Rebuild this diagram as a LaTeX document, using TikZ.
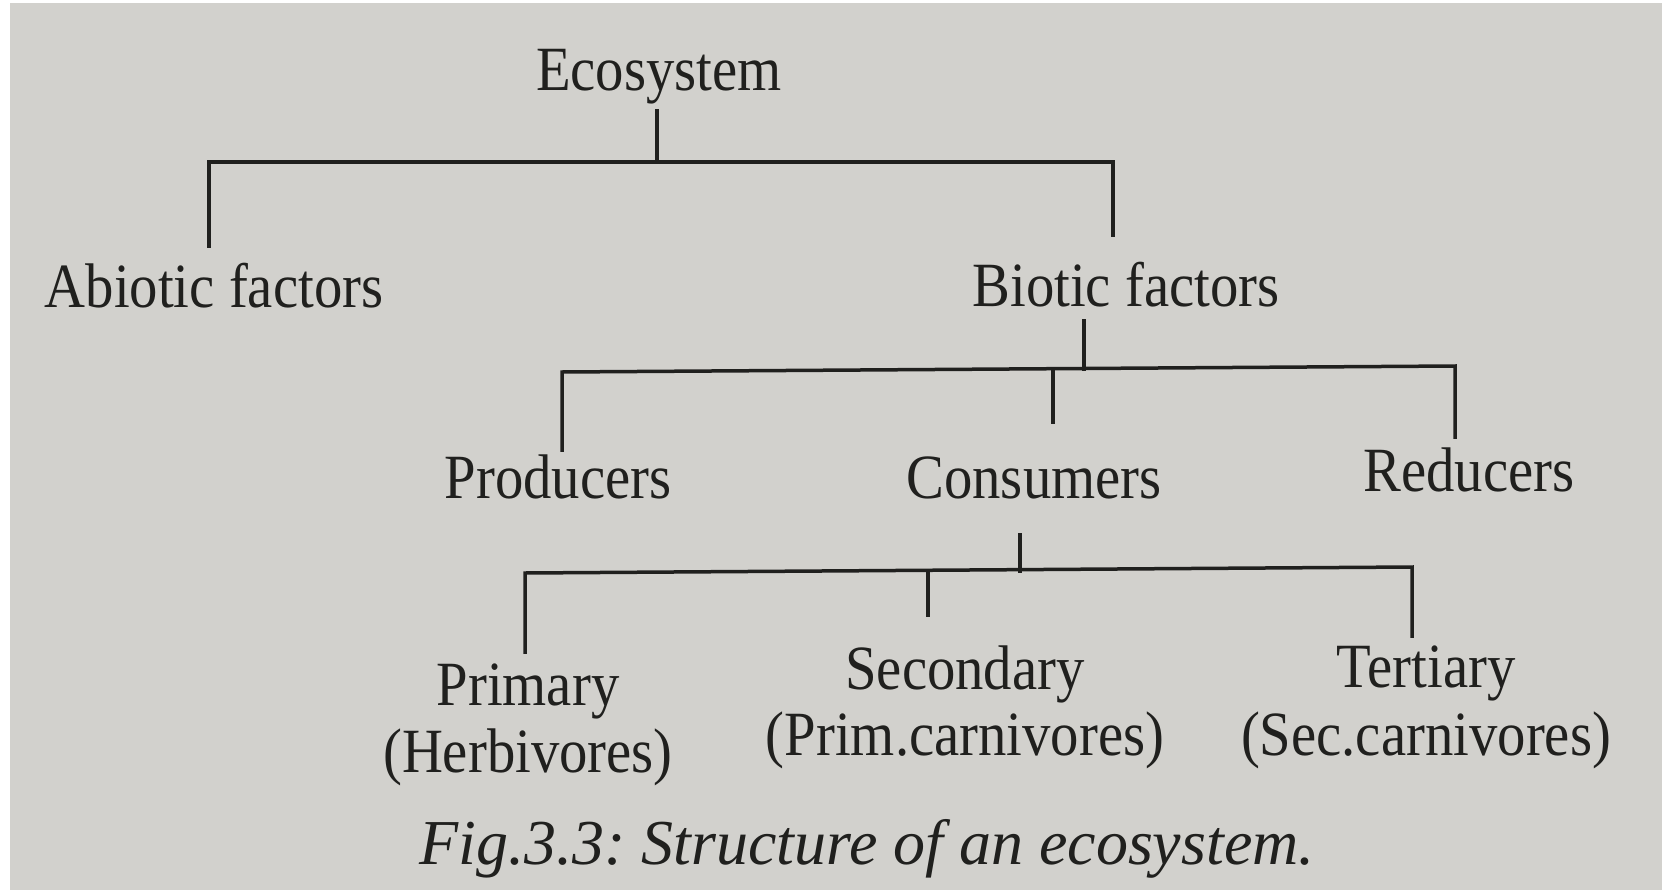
\documentclass[tikz,border=0pt]{standalone}
\usepackage{fontspec}
\newfontfamily\lblfont{Liberation Serif}[FakeStretch=0.9]
\newfontfamily\capfont{Liberation Serif}
\definecolor{paper}{RGB}{210,209,205}
\definecolor{ink}{RGB}{32,32,30}
\frenchspacing
\begin{document}
\begin{tikzpicture}[x=1pt,y=-1pt,
  lbl/.style={anchor=base,inner sep=0pt,text=ink,font=\lblfont\fontsize{63}{67}\selectfont,align=center},
  figcaption/.style={anchor=base,inner sep=0pt,text=ink,font=\capfont\itshape\fontsize{64}{68}\selectfont},
  tree/.style={draw=ink,line width=3.5pt,line cap=rect}]
\fill[white] (0,0) rectangle (1662,894);
\useasboundingbox (0,0) rectangle (1662,894);
\fill[paper] (10,3) rectangle (1662,890);
% labels
\node[lbl] (eco) at (659,90) {Ecosystem};
\node[lbl] (abio) at (214,307) {Abiotic factors};
\node[lbl] (bio) at (1126,306) {Biotic factors};
\node[lbl] (prod) at (558,498) {Producers};
\node[lbl] (cons) at (1034,498) {Consumers};
\node[lbl] (red) at (1469,491) {Reducers};
\node[lbl] (prim) at (528,705) {Primary};
\node[lbl] (primb) at (528,772) {(Herbivores)};
\node[lbl] (sec) at (965,689) {Secondary};
\node[lbl] (secb) at (965,755) {(Prim.carnivores)};
\node[lbl] (ter) at (1426,687) {Tertiary};
\node[lbl] (terb) at (1426,755) {(Sec.carnivores)};
\node[figcaption] (caption) at (867,864) {Fig.3.3: Structure of an ecosystem.};
% bracket coordinates
\coordinate (e0) at (657,111);
\coordinate (e1) at (657,162);
\coordinate (aL) at (209,162);
\coordinate (aR) at (1113,162);
\coordinate (a1) at (209,246);
\coordinate (b1) at (1113,235);
\coordinate (f0) at (1084,321);
\coordinate (f1) at (1084,369);
\coordinate (fL) at (562,372);
\coordinate (fR) at (1455,366);
\coordinate (p1) at (562,450);
\coordinate (c0) at (1053,370);
\coordinate (c1) at (1053,422);
\coordinate (r1) at (1455,437);
\coordinate (g0) at (1020,535);
\coordinate (g1) at (1020,571);
\coordinate (gL) at (525,573);
\coordinate (gR) at (1412,567);
\coordinate (h1) at (525,652);
\coordinate (s0) at (928,572);
\coordinate (s1) at (928,615);
\coordinate (t1) at (1412,636);
% connectors
\draw[tree] (e0) -- (e1);
\draw[tree] (a1) -- (aL) -- (aR) -- (b1);
\draw[tree] (f0) -- (f1);
\draw[tree] (p1) -- (fL) -- (fR) -- (r1);
\draw[tree] (c0) -- (c1);
\draw[tree] (g0) -- (g1);
\draw[tree] (h1) -- (gL) -- (gR) -- (t1);
\draw[tree] (s0) -- (s1);
\end{tikzpicture}
\end{document}
